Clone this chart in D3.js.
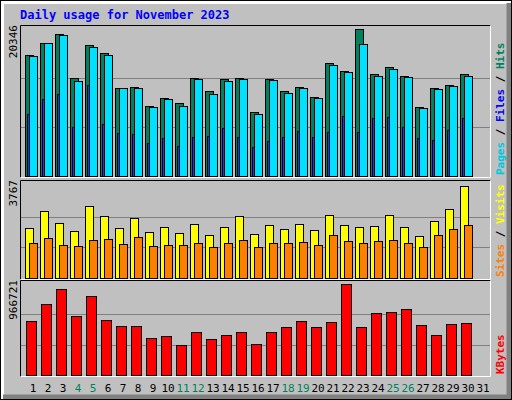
<!DOCTYPE html>
<html><head><meta charset="utf-8">
<script src="https://cdn.jsdelivr.net/npm/d3@7"></script>
<style>body{margin:0;background:#fff}svg{display:block}text{font-family:"DejaVu Sans Mono",monospace}</style>
</head><body>
<svg id="chart" width="512" height="400"></svg>
<script>
const days = d3.range(1, 32);
const weekends = [4, 5, 11, 12, 18, 19, 25, 26];
const hits = [16755,18458,19701,13579,18182,17077,12198,12336,9712,10817,10127,13579,11784,13441,13579,8884,13441,11784,12336,10955,15650,14546,20346,14131,15098,13855,9574,12198,12612,14131];
const files = [16617,18458,19563,13211,17906,16801,12198,12198,9574,10679,9712,13441,11369,13165,13441,8608,13303,11508,12198,10817,15374,14407,18320,13855,14822,13717,9436,12060,12474,13855];
const pages = [8516,10725,11415,6720,12658,7135,5892,5754,4511,5201,4097,5339,5478,6582,5339,3959,4787,5339,6168,5339,6030,8239,6030,7963,8101,6720,5201,4925,6306,7963];
const visits = [2041,2740,2247,1918,2946,2535,2041,2452,1877,2082,1836,2206,1754,2082,2535,1795,2165,2000,2206,1959,2576,2165,2082,2124,2576,2082,1713,2329,2822,3767];
const sites = [1425,1630,1343,1302,1548,1589,1384,1671,1302,1343,1343,1425,1260,1425,1548,1260,1425,1425,1466,1343,1754,1507,1425,1507,1548,1425,1260,1754,2000,2165];
const kbytes = [573642,754233,913578,626757,839217,584265,520527,520527,393051,414297,318690,456789,382428,424920,456789,329313,456789,509904,573642,509904,563019,966721,509904,658626,669249,701118,531150,424920,541773,552396];

const svg = d3.select("#chart");
const W = 512, H = 400;

// background + bevel
svg.append("rect").attr("width", W).attr("height", H).attr("fill", "#c0c0c0");
svg.append("path").attr("d", `M1,${H-1} V1 H${W-1}`).attr("stroke", "#fff").attr("stroke-width", 6).attr("fill", "none");
svg.append("path").attr("d", `M3,${H-3} H${W-3} V3`).attr("stroke", "#808080").attr("stroke-width", 5).attr("fill", "none");
svg.append("rect").attr("x", 0.5).attr("y", 0.5).attr("width", W-1).attr("height", H-1).attr("fill", "none").attr("stroke", "#000");

svg.append("text").attr("x", 20).attr("y", 19).attr("fill", "#0000ff")
  .attr("font-size", 12).attr("font-weight", "bold").text("Daily usage for November 2023");

const x = d3.scaleLinear().domain([1, 31]).range([25, 475]);

function panel(top, bottom, maxPx, max, series, labels) {
  const base = bottom - 1;
  const y = d3.scaleLinear().domain([0, max]).range([base, base - maxPx]);
  const g = svg.append("g");
  g.append("path").attr("d", `M20.5,${bottom+0.5} V${top+0.5} H490.5`).attr("stroke", "#000").attr("fill", "none");
  g.append("path").attr("d", `M20.5,${bottom+0.5} H490.5 V${top+0.5}`).attr("stroke", "#fff").attr("fill", "none");
  [1/3, 2/3].forEach(f => {
    g.append("line").attr("x1", 21).attr("x2", 490)
      .attr("y1", Math.round(y(max * f)) + 0.5).attr("y2", Math.round(y(max * f)) + 0.5)
      .attr("stroke", "#808080");
  });
  series.forEach(s => {
    g.selectAll(null).data(s.data).enter().append("rect")
      .attr("x", (d, i) => x(i + 1) + s.dx + 0.5)
      .attr("width", s.w)
      .attr("y", d => Math.round(y(d)) + 0.5)
      .attr("height", d => base - Math.round(y(d)))
      .attr("fill", s.color).attr("stroke", "#000");
  });
  g.append("text").attr("transform", `translate(17,${top}) rotate(-90)`)
    .attr("text-anchor", "end").attr("font-size", 11).attr("font-family", "DejaVu Sans, sans-serif")
    .attr("fill", "#000").text(d3.max(series[0].data.concat(series.length > 1 ? series[1].data : [])));
  const t = g.append("text").attr("transform", `translate(504,${top + 2}) rotate(90)`)
    .attr("font-size", 11).attr("font-weight", "bold").attr("text-anchor", "start");
  labels.forEach((l, i) => {
    if (i) t.append("tspan").attr("fill", "#000").text(" / ");
    t.append("tspan").attr("fill", l[1]).text(l[0]);
  });
  // labels read bottom-to-top in original: reverse orientation
  t.attr("transform", `translate(504,${bottom - 2}) rotate(-90)`);
}

panel(25, 177, 147, 20346, [
  {data: hits, dx: 0, w: 8, color: "#00805c"},
  {data: files, dx: 4, w: 8, color: "#00e0ff"},
  {data: pages, dx: 2, w: 2, color: "#0040ff"}
], [["Pages", "#00c8e0"], ["Files", "#0000ff"], ["Hits", "#00805c"]]);

panel(180, 279, 92, 3767, [
  {data: visits, dx: 0, w: 8, color: "#ffff00"},
  {data: sites, dx: 4, w: 8, color: "#ff8000"}
], [["Sites", "#ff8000"], ["Visits", "#ffff00"]]);

panel(280, 376, 91, 966721, [
  {data: kbytes, dx: 1, w: 10, color: "#ff0000"}
], [["KBytes", "#ff0000"]]);

svg.selectAll(".day").data(days).enter().append("text")
  .attr("x", d => x(d) + 8).attr("y", 392).attr("text-anchor", "middle")
  .attr("font-size", 11).attr("font-family", "DejaVu Sans, sans-serif")
  .attr("fill", d => weekends.includes(d) ? "#00805c" : "#000").text(d => d);
</script>
</body></html>
